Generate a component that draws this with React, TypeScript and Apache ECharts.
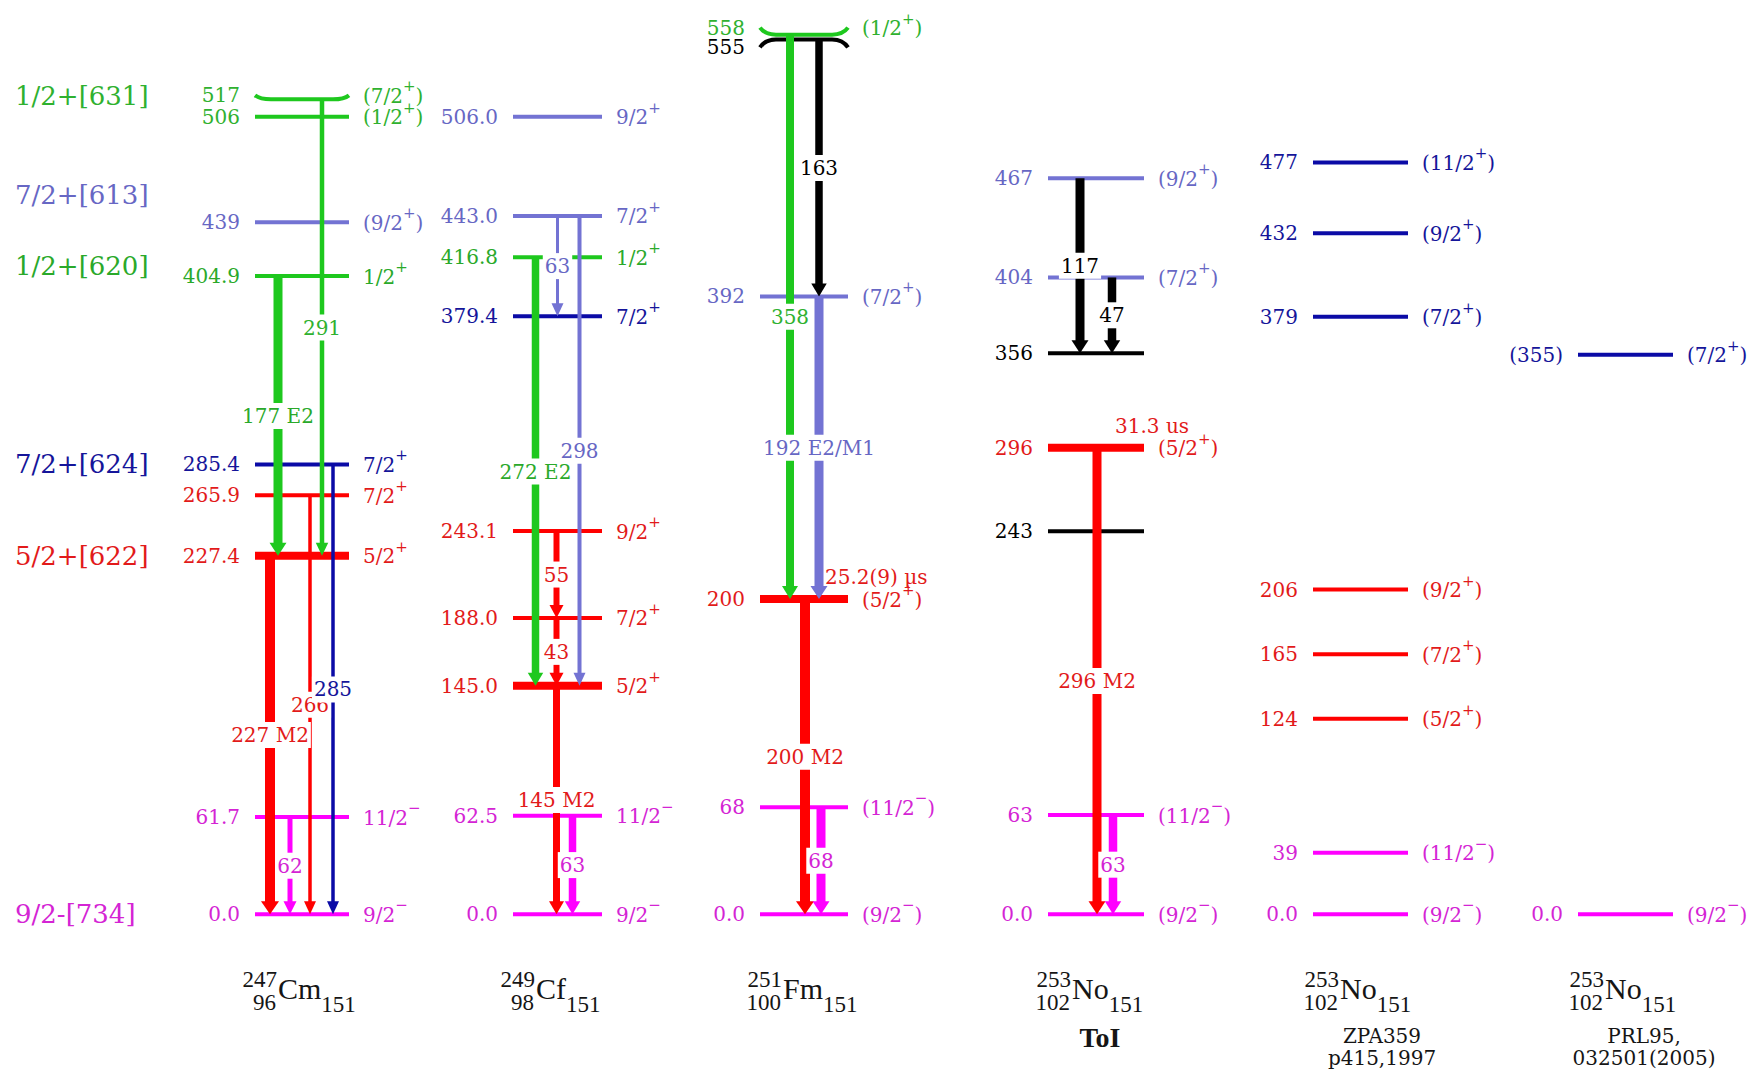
import React, { useEffect, useRef } from "react";
import * as echarts from "echarts";

// ===================== DATA =====================
// Nilsson band labels (left margin) and the energy they sit at
const bandLabels = ["1/2+[631]", "7/2+[613]", "1/2+[620]", "7/2+[624]", "5/2+[622]", "9/2-[734]"];
const bandKeys = ["631", "613", "620", "624", "622", "734"];
const bandLabelEnergy = [519, 456, 411, 285.4, 227.4, 0];

// 247Cm levels
const cmEnergy = [0.0, 61.7, 227.4, 265.9, 285.4, 404.9, 439, 506, 517];
const cmEnergyText = ["0.0", "61.7", "227.4", "265.9", "285.4", "404.9", "439", "506", "517"];
const cmSpin = ["9/2-", "11/2-", "5/2+", "7/2+", "7/2+", "1/2+", "(9/2+)", "(1/2+)", "(7/2+)"];
const cmBand = ["734", "734", "622", "622", "624", "620", "613", "631", "631"];

// 249Cf levels
const cfEnergy = [0.0, 62.5, 145.0, 188.0, 243.1, 379.4, 416.8, 443.0, 506.0];
const cfEnergyText = ["0.0", "62.5", "145.0", "188.0", "243.1", "379.4", "416.8", "443.0", "506.0"];
const cfSpin = ["9/2-", "11/2-", "5/2+", "7/2+", "9/2+", "7/2+", "1/2+", "7/2+", "9/2+"];
const cfBand = ["734", "734", "622", "622", "622", "624", "620", "613", "613"];

// 251Fm levels
const fmEnergy = [0, 68, 200, 392, 555, 558];
const fmEnergyText = ["0.0", "68", "200", "392", "555", "558"];
const fmSpin = ["(9/2-)", "(11/2-)", "(5/2+)", "(7/2+)", "", "(1/2+)"];
const fmBand = ["734", "734", "622", "613", "k", "631"];

// 253No (ToI)
const noToiEnergy = [0, 63, 243, 296, 356, 404, 467];
const noToiEnergyText = ["0.0", "63", "243", "296", "356", "404", "467"];
const noToiSpin = ["(9/2-)", "(11/2-)", "", "(5/2+)", "", "(7/2+)", "(9/2+)"];
const noToiBand = ["734", "734", "k", "622", "k", "613", "613"];

// 253No (ZPA359)
const noZpaEnergy = [0, 39, 124, 165, 206, 379, 432, 477];
const noZpaEnergyText = ["0.0", "39", "124", "165", "206", "379", "432", "477"];
const noZpaSpin = ["(9/2-)", "(11/2-)", "(5/2+)", "(7/2+)", "(9/2+)", "(7/2+)", "(9/2+)", "(11/2+)"];
const noZpaBand = ["734", "734", "622", "622", "622", "624", "624", "624"];

// 253No (PRL95)
const noPrlEnergy = [0, 355];
const noPrlEnergyText = ["0.0", "(355)"];
const noPrlSpin = ["(9/2-)", "(7/2+)"];
const noPrlBand = ["734", "624"];

// gamma transitions
const cmGammaFrom = [404.9, 517, 227.4, 265.9, 285.4, 61.7];
const cmGammaTo = [227.4, 227.4, 0, 0, 0, 0];
const cmGammaLabel = ["177 E2", "291", "227 M2", "266", "285", "62"];
const cmGammaBand = ["620", "631", "622", "622", "624", "734"];

const cfGammaFrom = [443.0, 443.0, 416.8, 243.1, 188.0, 145.0, 62.5];
const cfGammaTo = [379.4, 145.0, 145.0, 188.0, 145.0, 0, 0];
const cfGammaLabel = ["63", "298", "272 E2", "55", "43", "145 M2", "63"];
const cfGammaBand = ["613", "613", "620", "622", "622", "622", "734"];

const fmGammaFrom = [558, 555, 392, 200, 68];
const fmGammaTo = [200, 392, 200, 0, 0];
const fmGammaLabel = ["358", "163", "192 E2/M1", "200 M2", "68"];
const fmGammaBand = ["631", "k", "613", "622", "734"];

const noToiGammaFrom = [467, 404, 296, 63];
const noToiGammaTo = [356, 356, 0, 0];
const noToiGammaLabel = ["117", "47", "296 M2", "63"];
const noToiGammaBand = ["k", "k", "622", "734"];

// isomer half-lives
const isomerText = ["25.2(9) µs", "31.3 us"];
const isomerColumn = [2, 3];
const isomerEnergy = [200, 296];

// nuclide names
const nucMass = ["247", "249", "251", "253", "253", "253"];
const nucZ = ["96", "98", "100", "102", "102", "102"];
const nucSymbol = ["Cm", "Cf", "Fm", "No", "No", "No"];
const nucN = ["151", "151", "151", "151", "151", "151"];
const nucNote1 = ["", "", "", "ToI", "ZPA359", "PRL95,"];
const nucNote2 = ["", "", "", "", "p415,1997", "032501(2005)"];

// ===================== STYLE / LAYOUT =====================
const LINE_COLOR: Record<string, string> = {
  "631": "#1ec81e", "620": "#1ec81e", "613": "#7373d3", "624": "#0b0ba6",
  "622": "#ff0000", "734": "#ff00ff", k: "#000000",
};
const TEXT_COLOR: Record<string, string> = {
  "631": "#2fb12f", "620": "#2aa92a", "613": "#6767c4", "624": "#15159a",
  "622": "#e21a1a", "734": "#d424d4", k: "#000000",
};
const F_SERIF = (px: number, w = "") => `${w ? w + " " : ""}${px}px 'DejaVu Serif', serif`;
const F_TIMES = (px: number, w = "") => `${w ? w + " " : ""}${px}px 'Liberation Serif', serif`;
const COL_CENTER = [302, 557.5, 804, 1096, 1360.5, 1625.5];
const COL_HALF = [47, 44.5, 44, 48, 47.5, 47.5];
const THICK: Record<string, boolean> = { "0:227.4": true, "1:145": true, "2:200": true, "3:296": true };
const HOOK: Record<string, number> = { "0:517": -4, "2:558": -7, "2:555": 8 };
const GAMMA_DX = [
  [-24, 20, -32, 8, 31, -12],
  [0, 22, -22, -1, -1, -1, 15],
  [-14, 15, 15, 1, 17],
  [-16, 16, 1, 17],
];
const GAMMA_W = [
  [9, 4.5, 10, 3.5, 3.5, 5],
  [3, 4, 7.5, 6, 6, 7, 7.5],
  [8, 7.5, 9, 10, 9],
  [9, 8.5, 9, 8.5],
];
const ISOMER_DX = [21, 19];
const SYM_X = [278, 536, 783, 1072, 1340, 1605];
const NOTE_X = [0, 0, 0, 1100, 1382, 1644];

// ===================== BUILD RECORDS =====================
const colEnergy = [cmEnergy, cfEnergy, fmEnergy, noToiEnergy, noZpaEnergy, noPrlEnergy];
const colEnergyText = [cmEnergyText, cfEnergyText, fmEnergyText, noToiEnergyText, noZpaEnergyText, noPrlEnergyText];
const colSpin = [cmSpin, cfSpin, fmSpin, noToiSpin, noZpaSpin, noPrlSpin];
const colBand = [cmBand, cfBand, fmBand, noToiBand, noZpaBand, noPrlBand];

const levels: any[] = [];
colEnergy.forEach((arr, c) => {
  arr.forEach((e, i) => {
    const key = c + ":" + e;
    levels.push({ col: c, e, text: colEnergyText[c][i], spin: colSpin[c][i], band: colBand[c][i], thick: !!THICK[key], hook: HOOK[key] || 0 });
  });
});

const gFrom = [cmGammaFrom, cfGammaFrom, fmGammaFrom, noToiGammaFrom];
const gTo = [cmGammaTo, cfGammaTo, fmGammaTo, noToiGammaTo];
const gLabel = [cmGammaLabel, cfGammaLabel, fmGammaLabel, noToiGammaLabel];
const gBand = [cmGammaBand, cfGammaBand, fmGammaBand, noToiGammaBand];
const gammas: any[] = [];
gFrom.forEach((arr, c) => {
  arr.forEach((f, i) => {
    gammas.push({ col: c, from: f, to: gTo[c][i], label: gLabel[c][i], band: gBand[c][i], dx: GAMMA_DX[c][i], w: GAMMA_W[c][i] });
  });
});

function spinRich(s: string): string {
  const m = s.match(/^(.*?)([+-])(.*)$/);
  if (!m) return `{n|${s}}`;
  let out = `{n|${m[1]}}{s|${m[2] === "+" ? "+" : "\u2212"}}`;
  if (m[3]) out += `{n|${m[3]}}`;
  return out;
}
function spinRichStyle(color: string) {
  return {
    n: { font: F_SERIF(20), fill: color, height: 20, verticalAlign: "bottom" },
    s: { font: F_SERIF(15), fill: color, height: 15, padding: [0, 0, 12, 0], verticalAlign: "top" },
  };
}

function renderLevel(params: any, api: any) {
  const L = levels[params.dataIndex];
  const pl = api.coord([COL_CENTER[L.col] - COL_HALF[L.col], L.e]);
  const pr = api.coord([COL_CENTER[L.col] + COL_HALF[L.col], L.e]);
  const y = pl[1];
  const lw = L.thick ? 8 : 4;
  const stroke = LINE_COLOR[L.band];
  const children: any[] = [];
  if (L.hook) {
    const h = L.hook;
    children.push({ type: "bezierCurve", shape: { x1: pl[0], y1: y + h, cpx1: pl[0] + 5, cpy1: y, x2: pl[0] + 16, y2: y }, style: { stroke, lineWidth: lw, fill: "none" } });
    children.push({ type: "line", shape: { x1: pl[0] + 16, y1: y, x2: pr[0] - 16, y2: y }, style: { stroke, lineWidth: lw } });
    children.push({ type: "bezierCurve", shape: { x1: pr[0], y1: y + h, cpx1: pr[0] - 5, cpy1: y, x2: pr[0] - 16, y2: y }, style: { stroke, lineWidth: lw, fill: "none" } });
  } else {
    children.push({ type: "line", shape: { x1: pl[0], y1: y, x2: pr[0], y2: y }, style: { stroke, lineWidth: lw } });
  }
  const ly = y + L.hook;
  const tc = TEXT_COLOR[L.band];
  children.push({
    type: "text", x: pl[0] - 15, y: ly,
    style: { text: L.text, fill: tc, font: F_SERIF(20), align: "right", verticalAlign: "middle" },
  });
  if (L.spin) {
    children.push({
      type: "text", x: pr[0] + 14, y: ly - 3,
      style: { text: spinRich(L.spin), rich: spinRichStyle(tc), font: F_SERIF(20), fill: tc, align: "left", verticalAlign: "middle" },
    });
  }
  return { type: "group", children };
}

function renderGamma(params: any, api: any) {
  const g = gammas[params.dataIndex];
  const x = COL_CENTER[g.col] + g.dx;
  const p1 = api.coord([x, g.from]);
  const p2 = api.coord([x, g.to]);
  const hh = 13;
  const hw = Math.max(12, g.w + 8);
  const color = LINE_COLOR[g.band];
  const top = p1[1];
  const tip = p2[1];
  return {
    type: "group",
    children: [
      { type: "rect", shape: { x: p1[0] - g.w / 2, y: top, width: g.w, height: tip - hh - top + 1 }, style: { fill: color } },
      { type: "polygon", shape: { points: [[p1[0] - hw / 2, tip - hh], [p1[0] + hw / 2, tip - hh], [p1[0], tip]] }, style: { fill: color } },
      {
        type: "text", x: p1[0], y: (top + tip) / 2, z2: 50,
        style: { text: g.label, fill: TEXT_COLOR[g.band], font: F_SERIF(20), align: "center", verticalAlign: "middle", backgroundColor: "#ffffff", padding: [3, 2] },
      },
    ],
  };
}

function renderBand(params: any, api: any) {
  const i = params.dataIndex;
  const p = api.coord([15, bandLabelEnergy[i]]);
  return {
    type: "text", x: p[0], y: p[1],
    style: { text: bandLabels[i], fill: TEXT_COLOR[bandKeys[i]], font: F_SERIF(26), align: "left", verticalAlign: "middle" },
  };
}

function renderIsomer(params: any, api: any) {
  const i = params.dataIndex;
  const c = isomerColumn[i];
  const p = api.coord([COL_CENTER[c] + ISOMER_DX[i], isomerEnergy[i]]);
  return {
    type: "text", x: p[0], y: p[1] - 22,
    style: { text: isomerText[i], fill: TEXT_COLOR["622"], font: F_SERIF(20), align: "left", verticalAlign: "middle" },
  };
}

function nuclideGraphics() {
  const out: any[] = [];
  const ink = "#151515";
  nucSymbol.forEach((sym, i) => {
    const sx = SYM_X[i];
    out.push({ type: "text", x: sx - 1, y: 979, style: { text: nucMass[i], fill: ink, font: F_TIMES(23), align: "right", verticalAlign: "middle" } });
    out.push({ type: "text", x: sx - 2, y: 1002, style: { text: nucZ[i], fill: ink, font: F_TIMES(23), align: "right", verticalAlign: "middle" } });
    out.push({
      type: "text", x: sx, y: 974,
      style: {
        text: `{s|${sym}}{n|${nucN[i]}}`, fill: ink, font: F_TIMES(29), align: "left", verticalAlign: "top",
        rich: {
          s: { font: F_TIMES(30), fill: ink, height: 28, verticalAlign: "top" },
          n: { font: F_TIMES(23), fill: ink, height: 22, padding: [19, 0, 0, 0], verticalAlign: "top" },
        },
      },
    });
    if (nucNote1[i] === "ToI") {
      out.push({ type: "text", x: NOTE_X[i], y: 1037, style: { text: nucNote1[i], fill: ink, font: F_TIMES(28, "bold"), align: "center", verticalAlign: "middle" } });
    } else if (nucNote1[i]) {
      out.push({ type: "text", x: NOTE_X[i], y: 1036, style: { text: nucNote1[i], fill: ink, font: F_SERIF(20), align: "center", verticalAlign: "middle" } });
      out.push({ type: "text", x: NOTE_X[i], y: 1058, style: { text: nucNote2[i], fill: ink, font: F_SERIF(20), align: "center", verticalAlign: "middle" } });
    }
  });
  return out;
}

export default function App() {
  const ref = useRef<HTMLDivElement>(null);
  useEffect(() => {
    if (!ref.current) return;
    const chart = echarts.init(ref.current, null, { renderer: "svg", width: 1759, height: 1072 });
    const option: any = {
      animation: false,
      backgroundColor: "#ffffff",
      grid: { left: 0, top: 0, width: 1759, height: 1077.45, containLabel: false },
      xAxis: { type: "value", min: 0, max: 1759, show: false },
      yAxis: { type: "value", min: -100, max: 580, show: false },
      series: [
        { type: "custom", name: "levels", clip: false, z: 2, data: levels.map((l) => [COL_CENTER[l.col], l.e]), renderItem: renderLevel, silent: true },
        { type: "custom", name: "gammas", clip: false, z: 3, data: gammas.map((g) => [COL_CENTER[g.col] + g.dx, g.from, g.to]), renderItem: renderGamma, silent: true },
        { type: "custom", name: "bands", clip: false, z: 4, data: bandLabelEnergy.map((e) => [15, e]), renderItem: renderBand, silent: true },
        { type: "custom", name: "isomers", clip: false, z: 4, data: isomerEnergy.map((e, i) => [COL_CENTER[isomerColumn[i]], e]), renderItem: renderIsomer, silent: true },
      ],
      graphic: nuclideGraphics(),
    };
    chart.setOption(option);
    return () => chart.dispose();
  }, []);
  return <div ref={ref} style={{ position: "fixed", left: 0, top: 0, width: 1759, height: 1072, background: "#fff" }} />;
}
